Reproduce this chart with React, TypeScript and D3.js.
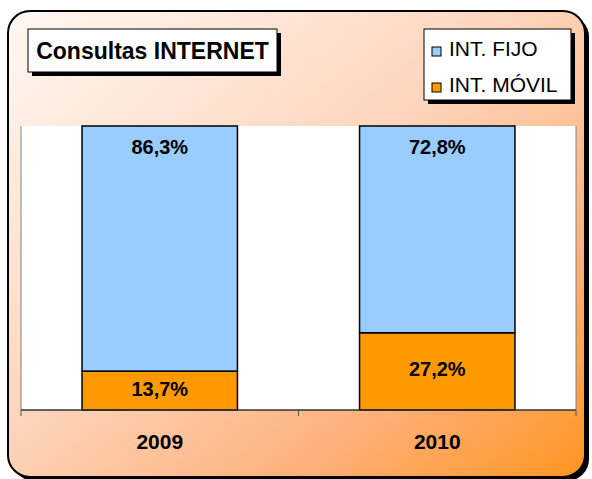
import React from "react";
import * as d3 from "d3";

const categories = ["2009", "2010"];
const seriesNames = ["INT. FIJO", "INT. MÓVIL"];
const fijo = [86.3, 72.8];
const movil = [13.7, 27.2];
const seriesColors = ["#99CCFF", "#FF9900"];
const title = "Consultas INTERNET";

const W = 592, H = 479;
const plot = { left: 21, right: 576, top: 126, bottom: 410 };
const FONT = "'Liberation Sans', Arial, sans-serif";

export default function App() {
  const x = d3.scaleBand<string>().domain(categories).range([plot.left, plot.right]).paddingInner(0.44).paddingOuter(0.22);
  const y = d3.scaleLinear().domain([0, 100]).range([plot.bottom, plot.top]);
  const stackData = categories.map((c, i) => ({ cat: c, movil: movil[i], fijo: fijo[i] }));
  const stack = d3.stack<any>().keys(["movil", "fijo"])(stackData);
  const colorFor: Record<string, string> = { movil: seriesColors[1], fijo: seriesColors[0] };
  const fmt = (v: number) => v.toFixed(1).replace(".", ",") + "%";
  const step = x.step();
  const tickXs = [plot.left, ...categories.map((c) => (x(c) as number) + x.bandwidth() / 2 + step / 2)];

  return (
    <svg width={W} height={H} style={{ position: "absolute", left: 0, top: 0 }} fontFamily={FONT}>
      <defs>
        <linearGradient id="bg" x1="0" y1="0" x2="1" y2="1">
          <stop offset="0" stopColor="#FFF8F3" />
          <stop offset="0.45" stopColor="#FDD5BC" />
          <stop offset="0.75" stopColor="#FDB07A" />
          <stop offset="1" stopColor="#FF9520" />
        </linearGradient>
      </defs>
      <rect x={12} y={15} width={577} height={466} rx={22} fill="#000" />
      <rect x={8} y={11} width={577} height={466} rx={22} fill="url(#bg)" stroke="#000" strokeWidth={2} />

      {/* plot area */}
      <rect x={plot.left} y={plot.top} width={plot.right - plot.left} height={plot.bottom - plot.top} fill="#FFFFFF" />
      <line x1={plot.left} x2={plot.left} y1={plot.top} y2={plot.bottom} stroke="#808080" strokeWidth={1} />
      <line x1={plot.right} x2={plot.right} y1={plot.top} y2={plot.bottom} stroke="#808080" strokeWidth={1} />

      {stack.map((layer) =>
        layer.map((d, i) => (
          <rect
            key={layer.key + i}
            x={x(categories[i])}
            y={y(d[1])}
            width={x.bandwidth()}
            height={y(d[0]) - y(d[1])}
            fill={colorFor[layer.key]}
            stroke="#000"
            strokeWidth={1.5}
          />
        ))
      )}

      {categories.map((c, i) => {
        const cx = (x(c) as number) + x.bandwidth() / 2;
        const mid = (y(0) + y(movil[i])) / 2;
        return (
          <g key={c} fontWeight="bold" fontSize={20} textAnchor="middle" fill="#000">
            <text x={cx} y={y(100) + 28}>{fmt(fijo[i])}</text>
            <text x={cx} y={mid + 5}>{fmt(movil[i])}</text>
            <text x={cx} y={449} fontSize={21}>{c}</text>
          </g>
        );
      })}

      <line x1={plot.left} x2={plot.right} y1={plot.bottom} y2={plot.bottom} stroke="#333" strokeWidth={1.5} />
      {tickXs.map((tx, i) => (
        <line key={i} x1={tx} x2={tx} y1={plot.bottom} y2={plot.bottom + 6} stroke="#555" strokeWidth={1} />
      ))}

      {/* title */}
      <rect x={32} y={33} width={249} height={43} fill="#000" />
      <rect x={28} y={29} width={249} height={43} fill="#FFF" stroke="#000" strokeWidth={1} />
      <text x={152.5} y={59} textAnchor="middle" fontWeight="bold" fontSize={23} fill="#000">{title}</text>

      {/* legend */}
      <rect x={428} y={33} width={147} height={71} fill="#000" />
      <rect x={424} y={29} width={147} height={71} fill="#FFF" stroke="#000" strokeWidth={1} />
      {seriesNames.map((s, i) => (
        <g key={s}>
          <rect x={432} y={47 + i * 36} width={9} height={9} fill={seriesColors[i]} stroke="#000" strokeWidth={1} />
          <text x={449} y={56 + i * 36} fontSize={21} fill="#000">{s}</text>
        </g>
      ))}
    </svg>
  );
}
